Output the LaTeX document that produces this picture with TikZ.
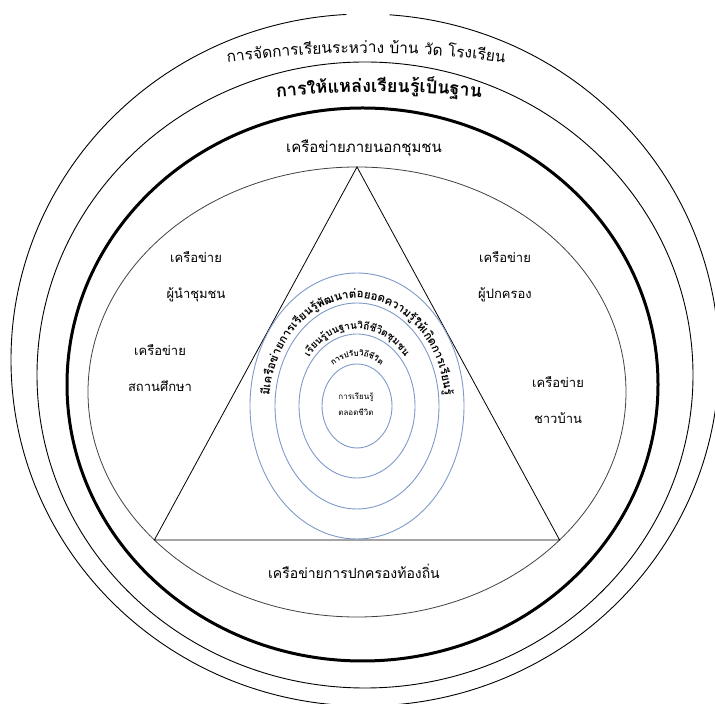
\documentclass[tikz,border=0pt]{standalone}
\usepackage{fontspec}
\newfontfamily\thai[Script=Thai]{Loma}
\usepackage{tikz}
\usetikzlibrary{calc, decorations.text}
\definecolor{ringblue}{RGB}{126,154,200}
\tikzstyle{ring} = [draw=black, line width=0.9pt]
\tikzstyle{thickring} = [draw=black, line width=3pt]
\tikzstyle{innerring} = [draw=black!75, line width=0.8pt]
\tikzstyle{bluering} = [draw=ringblue, line width=0.9pt]
\tikzstyle{tri} = [draw=black, line width=0.8pt]
\tikzstyle{netlabel} = [align=center, inner sep=0pt, font=\thai\fontsize{13}{36}\selectfont]
\tikzstyle{biglabel} = [inner sep=0pt, font=\thai\fontsize{15}{18}\selectfont]
\newcommand{\arcfontA}{\thai\fontsize{15.5}{18}\selectfont}
\newcommand{\arcfontB}{\thai\bfseries\fontsize{18}{21}\selectfont}
\newcommand{\ringfontA}{\thai\bfseries\fontsize{11.5}{13}\selectfont}
\newcommand{\ringfontB}{\thai\bfseries\fontsize{10}{12}\selectfont}
\newcommand{\ringfontC}{\thai\bfseries\fontsize{8}{10}\selectfont}

\begin{document}
\begin{tikzpicture}[x=1pt, y=1pt]
        \useasboundingbox (0,0) rectangle (715,704);
        \clip (0,0) rectangle (715,704);
        \coordinate (outerc) at (365,344);
        \coordinate (secondc) at (365,329);
        \coordinate (thickc) at (362.5,319.5);
        \coordinate (innerc) at (357,312);
        \coordinate (core) at (357,298);
        \coordinate (archA) at (366,-349);
        \coordinate (archB) at (379,-388);

        % outer rings
        \draw [ring] ($(outerc)+(93:354pt and 346pt)$) arc [start angle=93, end angle=446, x radius=354pt, y radius=346pt];
        \draw [ring] (secondc) ellipse [x radius=328pt, y radius=313pt];
        \draw [thickring] (thickc) ellipse [x radius=295.5pt, y radius=276.5pt];
        \draw [innerring] (innerc) ellipse [x radius=269pt, y radius=225pt];

        % triangle inside the inner ring
        \coordinate (apex) at ($(innerc)+(90:269pt and 225pt)$);
        \coordinate (baseleft) at ($(innerc)+(221.13:269pt and 225pt)$);
        \coordinate (baseright) at ($(innerc)+(-41.13:269pt and 225pt)$);
        \draw [tri] (apex) -- (baseleft) -- (baseright) -- cycle;

        % blue rings
        \draw [bluering] (core) ellipse [x radius=107pt, y radius=133pt];
        \draw [bluering] (core) ellipse [x radius=82pt, y radius=103pt];
        \draw [bluering] (core) ellipse [x radius=58pt, y radius=72pt];
        \draw [bluering] (core) ellipse [x radius=35pt, y radius=42pt];

        % texts along the rings
        \path [decorate, decoration={text along path, text align=center,
            text={|\arcfontA|การ{จั}ดการเ{รี}ยนระห{ว่}าง {บ้}าน {วั}ด โรงเ{รี}ยน}}]
            ($(archA)+(100:1000pt)$) arc [start angle=100, end angle=80, radius=1000pt];
        \path [decorate, decoration={text along path, text align=center,
            text={|\arcfontB|การใ{ห้}แห{ล่}งเ{รี}ยน{รู้}เ{ป็}นฐาน}}]
            ($(archB)+(100:1000pt)$) arc [start angle=100, end angle=80, radius=1000pt];
        \path [decorate, decoration={text along path, text align=center,
            text={|\ringfontA|{มี}เค{รื}อ{ข่}ายการเ{รี}ยน{รู้}{พั}ฒนา{ต่}อยอดความ{รู้}ใ{ห้}เ{กิ}ดการเ{รี}ยน{รู้}}}]
            ($(core)+(200:88pt and 108pt)$) arc [start angle=200, end angle=-20, x radius=88pt, y radius=108pt];
        \path [decorate, decoration={text along path, text align=center,
            text={|\ringfontB|เ{รี}ยน{รู้}บนฐาน{วิ}{ถี}{ชี}{วิ}ต{ชุ}มชน}}]
            ($(core)+(180:62pt and 77pt)$) arc [start angle=180, end angle=0, x radius=62pt, y radius=77pt];
        \path [decorate, decoration={text along path, text align=center,
            text={|\ringfontC|การป{รั}บ{วิ}{ถี}{ชี}{วิ}ต}}]
            ($(core)+(160:41pt and 50pt)$) arc [start angle=160, end angle=20, x radius=41pt, y radius=50pt];

        % network labels
        \node (outside) [biglabel] at (364,556) {เครือข่ายภายนอกชุมชน};
        \node (leaders) [netlabel] at (196,427) {เครือข่าย\\ผู้นำชุมชน};
        \node (schools) [netlabel] at (160,336) {เครือข่าย\\สถานศึกษา};
        \node (parents) [netlabel] at (505,427) {เครือข่าย\\ผู้ปกครอง};
        \node (villagers) [netlabel] at (558,304) {เครือข่าย\\ชาวบ้าน};
        \node (localgov) [inner sep=0pt, font=\thai\fontsize{14}{17}\selectfont] at (354,133) {เครือข่ายการปกครองท้องถิ่น};
        \node (lifelong) [align=center, inner sep=0pt, font=\thai\fontsize{8}{16}\selectfont] at (356,300) {การเรียนรู้\\ตลอดชีวิต};
    \end{tikzpicture}
\end{document}
